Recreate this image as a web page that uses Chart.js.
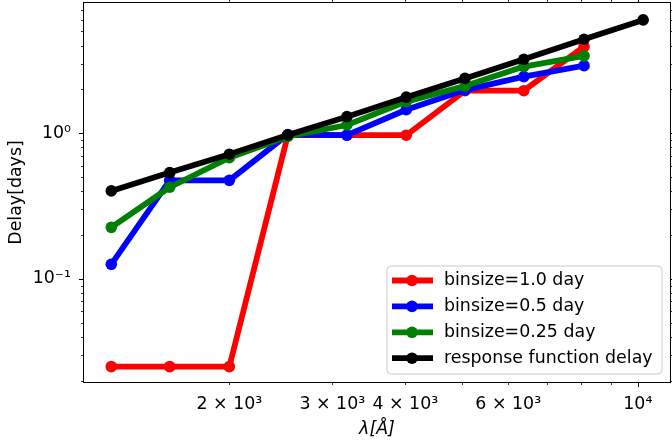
<!DOCTYPE html>
<html lang="en">
<head>
<meta charset="UTF-8">
<title>Delay vs wavelength</title>
<style>
  html, body { margin: 0; padding: 0; background: #fff; }
  #wrap { width: 672px; height: 448px; }
</style>
<script src="https://cdn.jsdelivr.net/npm/chart.js"></script>
</head>
<body>
<div id="wrap"><canvas id="chart" width="672" height="448"></canvas></div>
<script>
// wavelengths in Angstrom
const wavelength = [1256, 1581, 2000, 2518, 3178, 4015, 5060, 6380, 8090, 10210];

// delays in days
const delayBin10  = [0.025, 0.025, 0.025, 0.97, 0.97, 0.97, 1.96, 1.96, 3.93];
const delayBin05  = [0.126, 0.475, 0.475, 0.98, 0.97, 1.45, 1.98, 2.45, 2.91];
const delayBin025 = [0.226, 0.426, 0.68, 0.95, 1.14, 1.65, 2.11, 2.87, 3.40];
const delayResp   = [0.402, 0.537, 0.718, 0.973, 1.30, 1.77, 2.38, 3.22, 4.42, 6.00];

const seriesNames = ['binsize=1.0 day', 'binsize=0.5 day', 'binsize=0.25 day', 'response function delay'];
const seriesColors = ['#ff0000', '#0000ff', '#008000', '#000000'];

// tick marks / labels
const xTicks = [2000, 3000, 4000, 5000, 6000, 7000, 8000, 9000, 10000];
const xMajor = [10000];
const xLabels = { '2000': '2 × 10³', '3000': '3 × 10³', '4000': '4 × 10³', '6000': '6 × 10³', '10000': '10⁴' };
const yTicks = [0.02, 0.03, 0.04, 0.05, 0.06, 0.07, 0.08, 0.09, 0.1,
                0.2, 0.3, 0.4, 0.5, 0.6, 0.7, 0.8, 0.9, 1, 2, 3, 4, 5, 6, 7];
const yMajor = [0.1, 1];
const yLabels = { '0.1': '10⁻¹', '1': '10⁰' };

const FONT = 'DejaVu Sans';
const FSIZE = 17.4;
const LW = 5.8;
const PR = 5.8;

function pts(ys) {
    return ys.map((y, i) => ({ x: wavelength[i], y: y }));
}

const allSeries = [delayBin10, delayBin05, delayBin025, delayResp];
const datasets = allSeries.map((ys, i) => ({
    label: seriesNames[i],
    data: pts(ys),
    borderColor: seriesColors[i],
    backgroundColor: seriesColors[i],
    borderWidth: LW,
    pointRadius: PR,
    pointBorderWidth: 0,
    pointBackgroundColor: seriesColors[i],
    borderJoinStyle: 'round',
    tension: 0,
    order: 4 - i   // black drawn on top
}));

// frame, tick marks on all four sides, axis titles and the legend box
const extras = {
    id: 'extras',
    afterDraw(chart) {
        const ctx = chart.ctx;
        const a = chart.chartArea;
        const xs = chart.scales.x, ys = chart.scales.y;
        ctx.save();
        ctx.strokeStyle = '#000';
        ctx.lineWidth = 1;
        ctx.strokeRect(Math.round(a.left) - 0.5, Math.round(a.top) - 0.5,
                       Math.round(a.right - a.left) + 1, Math.round(a.bottom - a.top) + 1);

        xTicks.forEach(v => {
            const px = Math.round(xs.getPixelForValue(v)) + 0.5;
            const len = xMajor.includes(v) ? 5 : 3;
            ctx.lineWidth = xMajor.includes(v) ? 1 : 0.8;
            ctx.beginPath();
            ctx.moveTo(px, a.bottom); ctx.lineTo(px, a.bottom + len);
            ctx.moveTo(px, a.top); ctx.lineTo(px, a.top - len);
            ctx.stroke();
        });
        yTicks.forEach(v => {
            const py = Math.round(ys.getPixelForValue(v)) + 0.5;
            const len = yMajor.includes(v) ? 5 : 3;
            ctx.lineWidth = yMajor.includes(v) ? 1 : 0.8;
            ctx.beginPath();
            ctx.moveTo(a.left, py); ctx.lineTo(a.left - len, py);
            ctx.moveTo(a.right, py); ctx.lineTo(a.right + len, py);
            ctx.stroke();
        });

        // axis titles
        ctx.fillStyle = '#000';
        ctx.textAlign = 'center';
        ctx.textBaseline = 'middle';
        ctx.font = 'italic ' + FSIZE + 'px "' + FONT + '"';
        ctx.fillText('λ[Å]', (a.left + a.right) / 2, 429);
        ctx.save();
        ctx.translate(16, (a.top + a.bottom) / 2);
        ctx.rotate(-Math.PI / 2);
        ctx.font = FSIZE + 'px "' + FONT + '"';
        ctx.fillText('Delay[days]', 0, 0);
        ctx.restore();

        // legend, lower right inside the axes
        const bx = 387, by = 266, bw = 275, bh = 108, r = 4;
        ctx.beginPath();
        ctx.moveTo(bx + r, by);
        ctx.arcTo(bx + bw, by, bx + bw, by + bh, r);
        ctx.arcTo(bx + bw, by + bh, bx, by + bh, r);
        ctx.arcTo(bx, by + bh, bx, by, r);
        ctx.arcTo(bx, by, bx + bw, by, r);
        ctx.closePath();
        ctx.fillStyle = 'rgba(255,255,255,0.8)';
        ctx.fill();
        ctx.strokeStyle = '#cccccc';
        ctx.lineWidth = 1;
        ctx.stroke();

        ctx.font = FSIZE + 'px "' + FONT + '"';
        ctx.textAlign = 'left';
        seriesNames.forEach((name, i) => {
            const cy = 280.5 + i * 25.9;
            ctx.strokeStyle = seriesColors[i];
            ctx.fillStyle = seriesColors[i];
            ctx.lineWidth = LW;
            ctx.beginPath();
            ctx.moveTo(392, cy); ctx.lineTo(433, cy);
            ctx.stroke();
            ctx.beginPath();
            ctx.arc(412, cy, PR, 0, Math.PI * 2);
            ctx.fill();
            ctx.fillStyle = '#000';
            ctx.fillText(name, 444, cy);
        });
        ctx.restore();
    }
};

new Chart(document.getElementById('chart'), {
    type: 'line',
    data: { datasets: datasets },
    options: {
        responsive: false,
        animation: false,
        devicePixelRatio: 1,
        layout: { autoPadding: false, padding: { left: 0, right: 2, top: 3, bottom: 0 } },
        plugins: { legend: { display: false }, tooltip: { enabled: false } },
        scales: {
            x: {
                type: 'logarithmic',
                min: 1128, max: 11350,
                grid: { display: false, drawTicks: false },
                border: { display: false },
                afterBuildTicks: s => { s.ticks = xTicks.map(v => ({ value: v })); },
                afterFit: s => {
                    s.height = 66;
                    s.paddingLeft = 0; s.paddingRight = 0;
                },
                ticks: {
                    autoSkip: false, maxRotation: 0, padding: 12,
                    color: '#000', font: { family: FONT, size: FSIZE },
                    callback: v => xLabels[String(v)] || null
                }
            },
            y: {
                type: 'logarithmic',
                min: 0.0196, max: 7.84,
                grid: { display: false, drawTicks: false },
                border: { display: false },
                afterBuildTicks: s => { s.ticks = yTicks.map(v => ({ value: v })); },
                afterFit: s => {
                    s.width = 84;
                    s.paddingTop = 0; s.paddingBottom = 0;
                },
                ticks: {
                    autoSkip: false, padding: 13,
                    color: '#000', font: { family: FONT, size: FSIZE },
                    callback: v => yLabels[String(v)] || null
                }
            }
        }
    },
    plugins: [extras]
});
</script>
</body>
</html>
